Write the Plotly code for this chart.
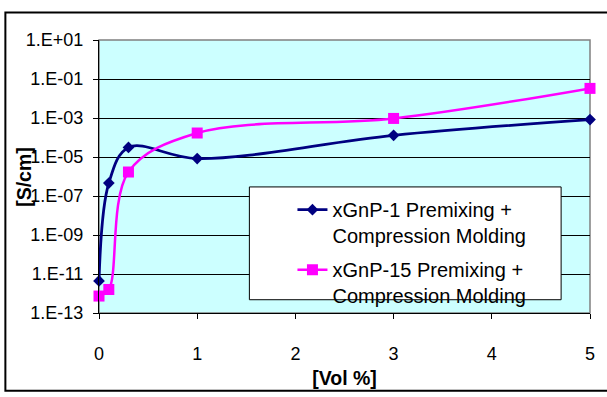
import plotly.graph_objects as go

vol = [0, 0.1, 0.3, 1, 3, 5]
xgnp1 = [4.4e-12, 4.6e-7, 3.1e-5, 8.3e-6, 1.3e-4, 8.3e-4]
xgnp15 = [7.4e-13, 1.6e-12, 1.7e-6, 1.7e-4, 9.5e-4, 3.3e-2]
name1 = "xGnP-1 Premixing +<br>Compression Molding"
name15 = "xGnP-15 Premixing +<br>Compression Molding"
ytickvals = [1e-13, 1e-11, 1e-9, 1e-7, 1e-5, 1e-3, 1e-1, 1e1]
yticktext = ["1.E-13", "1.E-11", "1.E-09", "1.E-07", "1.E-05", "1.E-03", "1.E-01", "1.E+01"]
xtickvals = [0, 1, 2, 3, 4, 5]

FONT = "Arial, Liberation Sans, sans-serif"

fig = go.Figure()
fig.add_trace(go.Scatter(
    x=vol, y=xgnp1, name=name1, mode="lines+markers", legendgroup="a",
    line=dict(color="#000080", width=2.8, shape="spline", smoothing=1),
    marker=dict(symbol="diamond", size=9, color="#000080", line=dict(width=0)),
    cliponaxis=False))
fig.add_trace(go.Scatter(
    x=vol, y=xgnp15, name=name15, mode="lines+markers", legendgroup="b",
    line=dict(color="#FF00FF", width=2.5, shape="spline", smoothing=1),
    marker=dict(symbol="square", size=11, color="#FF00FF", line=dict(width=0)),
    cliponaxis=False))

fig.update_layout(
    width=607, height=397,
    margin=dict(l=99, r=15, t=40, b=69),
    paper_bgcolor="white", plot_bgcolor="#CCFFFF",
    font=dict(family=FONT, size=18, color="black"),
    showlegend=True,
    legend=dict(x=0.394, y=0.45, xanchor="left", yanchor="top",
                bgcolor="rgba(0,0,0,0)", borderwidth=0,
                font=dict(family=FONT, size=20, color="black"),
                valign="top", tracegroupgap=5),
)
fig.update_xaxes(range=[0, 5], tickvals=xtickvals, ticks="outside", ticklen=5,
                 tickcolor="black", showline=True, linecolor="black", linewidth=1,
                 showgrid=False, zeroline=False, ticklabelstandoff=19,
                 title=dict(text="<b>[Vol %]</b>", font=dict(size=19.5), standoff=8))
fig.update_yaxes(type="log", range=[-13, 1], tickvals=ytickvals, ticktext=yticktext,
                 ticks="outside", ticklen=5, tickcolor="black", showline=True,
                 linecolor="black", linewidth=1, showgrid=True, gridcolor="black",
                 gridwidth=1, zeroline=False, ticklabelstandoff=6)

# plot area border (gray)
fig.add_shape(type="rect", xref="paper", yref="paper", x0=0, y0=0, x1=1, y1=1,
              line=dict(color="#808080", width=1.5), layer="below")
# legend box
fig.add_shape(type="rect", xref="paper", yref="paper",
              x0=(250 - 99) / 493, x1=(563 - 99) / 493,
              y0=(328 - 314) / 288, y1=(328 - 195) / 288,
              line=dict(color="black", width=1), fillcolor="white", layer="above")
# outer chart border
fig.add_shape(type="rect", xref="paper", yref="paper",
              x0=(5 - 99) / 493, x1=(620 - 99) / 493,
              y0=(328 - 410) / 288, y1=(328 - 11) / 288,
              line=dict(color="black", width=2), layer="above")

fig.add_annotation(text="<b>[S/cm]</b>", textangle=-90, xref="paper", yref="paper",
                   x=(23 - 99) / 493, y=0.5, xanchor="center", yanchor="middle",
                   showarrow=False, font=dict(family=FONT, size=19.5, color="black"))

fig.write_html("out.html", config={"displayModeBar": False},
               post_script="document.body.style.margin='0';document.body.style.overflow='hidden';")
